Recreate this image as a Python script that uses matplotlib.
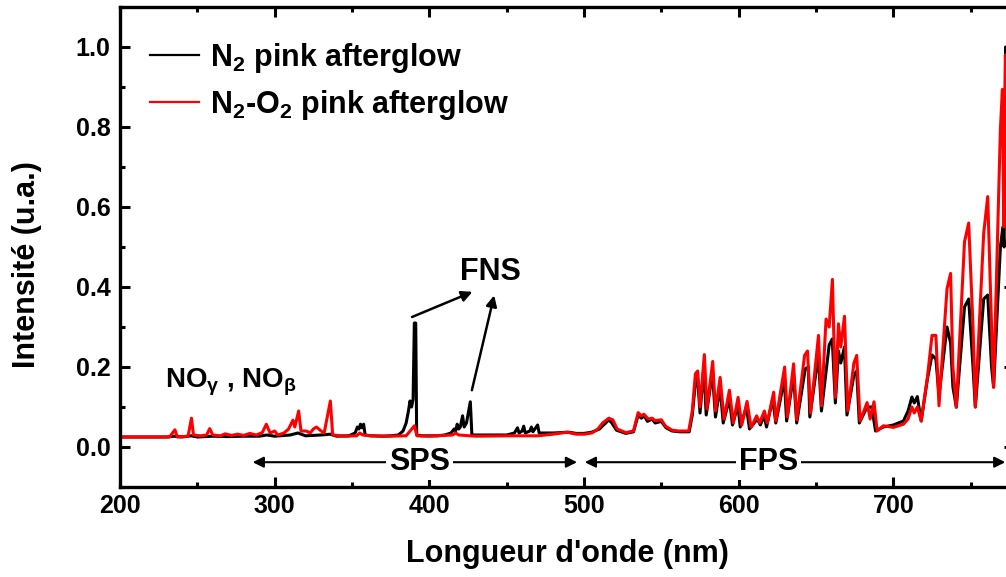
import matplotlib
matplotlib.use("Agg")
import matplotlib.pyplot as plt
from matplotlib.ticker import MultipleLocator

plt.rcParams["font.family"] = ["Liberation Sans", "DejaVu Sans"]
plt.rcParams["font.weight"] = "bold"
plt.rcParams["mathtext.fontset"] = "custom"
plt.rcParams["mathtext.rm"] = "Liberation Sans:bold"
plt.rcParams["mathtext.it"] = "Liberation Sans:bold"
plt.rcParams["mathtext.bf"] = "Liberation Sans:bold"

# ── Spectra (wavelength nm, normalised intensity) ────────────────────────────
n2_wl = [200, 230, 235, 240, 246, 250, 260, 270, 280, 290, 295, 300, 310, 315,
         320, 330, 336, 340, 348, 352, 353.5, 354.5, 355.5, 356.5, 357.5, 358.5,
         362, 370, 375, 380, 383, 385, 386.5, 387.5, 388.5, 389.5, 390.3, 391.2,
         391.8, 395, 405, 410, 414, 416, 417, 418, 419, 420, 421.5, 422.5, 424,
         426.5, 427.5, 435, 450, 455, 457, 458, 460, 461, 462, 465, 466, 467,
         470, 471, 480, 490, 495, 500, 505, 510, 514, 516, 518, 521, 527, 532,
         535, 537, 539, 541, 544, 546, 550, 553, 557, 562, 568, 570, 572, 573.5,
         575, 577.5, 579, 583, 585, 588, 590, 594, 596, 599.5, 601, 605, 607,
         612, 614, 616.5, 618, 622, 624, 629.5, 631, 635.5, 637.5, 643, 645,
         646, 651.5, 653.5, 658.5, 660.5, 662.5, 664.5, 666, 668.4, 670, 674.5,
         676.3, 678, 683, 686, 688.5, 693.5, 700, 706.5, 709.5, 712, 713.5,
         715.5, 718, 722, 725, 727.5, 729.5, 734.7, 737, 738.5, 740.7, 746,
         748.7, 751.5, 753, 758.4, 761, 763.5, 764.8, 769.2, 770.8, 771.6, 772.6,
         773.5]
n2_int = [0.025, 0.025, 0.027, 0.025, 0.028, 0.025, 0.027, 0.026, 0.027, 0.027,
          0.030, 0.027, 0.030, 0.035, 0.028, 0.030, 0.032, 0.027, 0.028, 0.035,
          0.050, 0.045, 0.057, 0.048, 0.057, 0.030, 0.028, 0.027, 0.028, 0.030,
          0.040, 0.060, 0.090, 0.115, 0.100, 0.120, 0.310, 0.310, 0.030, 0.028,
          0.028, 0.030, 0.035, 0.045, 0.040, 0.057, 0.045, 0.050, 0.078, 0.050,
          0.060, 0.113, 0.030, 0.030, 0.030, 0.035, 0.048, 0.035, 0.040, 0.052,
          0.035, 0.040, 0.050, 0.038, 0.055, 0.035, 0.035, 0.037, 0.034, 0.034,
          0.037, 0.045, 0.060, 0.068, 0.060, 0.042, 0.034, 0.038, 0.080, 0.072,
          0.078, 0.064, 0.070, 0.060, 0.064, 0.048, 0.040, 0.038, 0.038, 0.080,
          0.160, 0.170, 0.085, 0.200, 0.080, 0.185, 0.075, 0.150, 0.060, 0.120,
          0.055, 0.105, 0.050, 0.100, 0.045, 0.070, 0.055, 0.078, 0.050, 0.120,
          0.060, 0.170, 0.065, 0.180, 0.060, 0.195, 0.200, 0.075, 0.230, 0.090,
          0.255, 0.270, 0.110, 0.240, 0.210, 0.250, 0.080, 0.180, 0.190, 0.060,
          0.100, 0.100, 0.040, 0.050, 0.055, 0.065, 0.090, 0.125, 0.110, 0.126,
          0.065, 0.170, 0.230, 0.220, 0.130, 0.300, 0.260, 0.150, 0.100, 0.350,
          0.370, 0.200, 0.100, 0.370, 0.380, 0.200, 0.150, 0.500, 0.550, 0.500,
          1.000, 0.900]

n2o2_wl = [200, 232, 235.5, 237, 244, 246.2, 247.5, 252, 256, 258, 260, 265,
           268, 272, 276, 280, 284, 288, 292, 294.6, 297, 300, 302, 306, 309,
           311.8, 313, 315.5, 317, 320.4, 323, 325, 327, 330, 332, 336, 337.5,
           345, 353, 355, 357, 362, 375, 385, 390.3, 392, 400, 415, 417, 419,
           430, 450, 470, 480, 489, 495, 500, 505, 509, 512, 516, 518.6, 521.4,
           527, 532, 535, 537, 538.7, 541.5, 544, 546, 550, 552.7, 557, 561,
           567.7, 570, 572, 573.5, 575, 577.8, 579.5, 583.2, 585, 588, 590.5,
           594, 596.5, 599.6, 602, 605.4, 608, 611.6, 613.5, 616.6, 618.5,
           622.6, 624, 629.7, 631.5, 635.5, 637.5, 642.6, 644.5, 646.5, 651.6,
           653.5, 656.5, 658.5, 660.6, 662.5, 664.5, 666, 668.4, 670.5, 674.5,
           676.3, 678.5, 683, 685, 687.5, 689.5, 693.5, 700, 706.5, 709.5, 712,
           713.5, 715.5, 718, 722, 725, 727.5, 729.5, 734.7, 737, 738.5, 740.7,
           746, 748.7, 751.5, 753, 758.4, 761, 763.5, 764.8, 769.2, 770.5,
           771.5, 772.4, 773.5]
n2o2_int = [0.025, 0.025, 0.043, 0.025, 0.027, 0.072, 0.030, 0.028, 0.030,
            0.046, 0.030, 0.028, 0.033, 0.029, 0.032, 0.029, 0.034, 0.030,
            0.036, 0.057, 0.035, 0.040, 0.030, 0.035, 0.045, 0.067, 0.050,
            0.090, 0.040, 0.040, 0.035, 0.045, 0.050, 0.040, 0.035, 0.115,
            0.030, 0.027, 0.028, 0.035, 0.030, 0.028, 0.027, 0.028, 0.053,
            0.028, 0.027, 0.030, 0.035, 0.030, 0.027, 0.028, 0.028, 0.032,
            0.037, 0.032, 0.032, 0.035, 0.045, 0.060, 0.072, 0.068, 0.045,
            0.036, 0.040, 0.086, 0.078, 0.082, 0.070, 0.072, 0.066, 0.068,
            0.052, 0.042, 0.040, 0.040, 0.090, 0.183, 0.190, 0.100, 0.231,
            0.095, 0.214, 0.090, 0.174, 0.070, 0.142, 0.060, 0.124, 0.055,
            0.114, 0.049, 0.078, 0.060, 0.090, 0.060, 0.137, 0.065, 0.200,
            0.075, 0.208, 0.068, 0.229, 0.240, 0.085, 0.279, 0.103, 0.320,
            0.300, 0.419, 0.124, 0.308, 0.250, 0.327, 0.090, 0.210, 0.229,
            0.065, 0.111, 0.070, 0.113, 0.040, 0.053, 0.049, 0.057, 0.070,
            0.100, 0.085, 0.100, 0.065, 0.174, 0.279, 0.279, 0.103, 0.396,
            0.434, 0.200, 0.099, 0.513, 0.560, 0.300, 0.100, 0.534, 0.626,
            0.300, 0.149, 0.794, 0.894, 0.550, 0.980, 0.900]

# band labels and their arrows (wavelength ranges, nm)
SPS_RANGE = (285.8, 495.5)
FPS_RANGE = (500.5, 772.4)
FNS_FROM = [(388.8, 0.325), (427.5, 0.142)]
FNS_TO = [(427.9, 0.388), (441.9, 0.379)]

W, H = 1006, 577
fig = plt.figure(figsize=(W / 100, H / 100), dpi=100)
# axes runs slightly past the right edge: the source image is cropped there
ax = fig.add_axes([120 / W, 1 - 487 / H, 894 / W, 480 / H])

ax.plot(n2_wl, n2_int, color="black", lw=2.2, label=r"N$_2$ pink afterglow")
ax.plot(n2o2_wl, n2o2_int, color="#ff0000", lw=2.2,
        label=r"N$_2$-O$_2$ pink afterglow")

ax.set_xlim(200, 778)
ax.set_ylim(-0.1, 1.1)
ax.xaxis.set_major_locator(MultipleLocator(100))
ax.xaxis.set_minor_locator(MultipleLocator(50))
ax.yaxis.set_major_locator(MultipleLocator(0.2))
ax.yaxis.set_minor_locator(MultipleLocator(0.1))
ax.tick_params(which="both", direction="in", top=True, right=True, width=2.2,
               labelsize=18)
ax.tick_params(which="major", length=7)
ax.tick_params(which="minor", length=3.5)
ax.tick_params(axis="x", pad=5)
ax.tick_params(axis="y", pad=7)
for s in ax.spines.values():
    s.set_linewidth(2.4)

fig.text(27 / W, 1 - 265 / H, "Intensité (u.a.)", rotation=90, ha="center",
         va="center", fontsize=22, fontweight="bold")
fig.text(567 / W, 1 - 554 / H, "Longueur d'onde (nm)", ha="center",
         va="center", fontsize=22, fontweight="bold")

leg = ax.legend(loc="upper left", bbox_to_anchor=(150 / W, 1 - 41 / H),
                bbox_transform=fig.transFigure, frameon=False, fontsize=22,
                handlelength=1.6, handletextpad=0.35, labelspacing=0.42,
                borderpad=0, borderaxespad=0)
for ln in leg.get_lines():
    ln.set_linewidth(1.6)

# SPS / FPS ranges
yb = -0.038
for rng, name in [(SPS_RANGE, "SPS"), (FPS_RANGE, "FPS")]:
    ax.annotate("", xy=(rng[1], yb), xytext=(rng[0], yb),
                arrowprops=dict(arrowstyle="<|-|>", color="black", lw=1.5,
                                mutation_scale=16, shrinkA=0, shrinkB=0))
ax.text(393.5, yb, "SPS", ha="center", va="center", fontsize=22,
        fontweight="bold", bbox=dict(facecolor="white", edgecolor="none", pad=2))
ax.text(619.5, yb, "FPS", ha="center", va="center", fontsize=22,
        fontweight="bold", bbox=dict(facecolor="white", edgecolor="none", pad=2))

# FNS arrows
for (x0, y0), (x1, y1) in zip(FNS_FROM, FNS_TO):
    ax.annotate("", xy=(x1, y1), xytext=(x0, y0),
                arrowprops=dict(arrowstyle="-|>", color="black", lw=1.8,
                                mutation_scale=16, shrinkA=0, shrinkB=0))
ax.text(439.8, 0.437, "FNS", ha="center", va="center", fontsize=22,
        fontweight="bold")

ax.text(229, 0.149, r"NO$_\gamma$ , NO$_\beta$", ha="left", va="baseline",
        fontsize=20, fontweight="bold")

fig.savefig("out.png", dpi=100)
